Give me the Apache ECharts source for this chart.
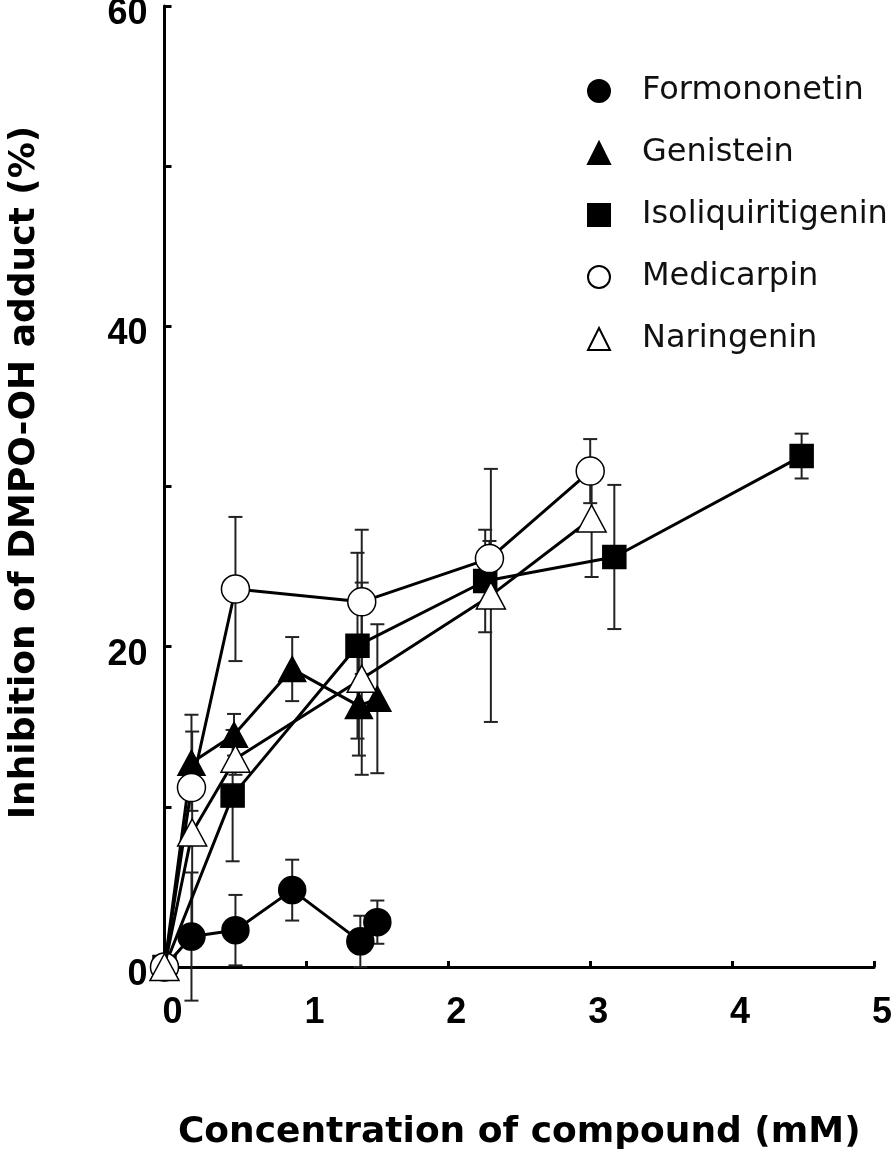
<!DOCTYPE html>
<html>
<head>
<meta charset="utf-8">
<script src="https://cdn.jsdelivr.net/npm/echarts@6/dist/echarts.min.js"></script>
<style>
  html, body { margin: 0; padding: 0; background: #fff; }
  #chart { width: 896px; height: 1159px; }
</style>
</head>
<body>
<div id="chart"></div>
<script>
// ---- data ----
const compounds = ['Formononetin', 'Genistein', 'Isoliquiritigenin', 'Medicarpin', 'Naringenin'];

const formononetinX = [0, 0.19, 0.50, 0.90, 1.38, 1.50];
const formononetinY = [0, 1.9, 2.3, 4.8, 1.6, 2.8];
const formononetinErr = [0, 4.0, 2.2, 1.9, 1.6, 1.35];

const genisteinX = [0, 0.19, 0.49, 0.90, 1.37, 1.50];
const genisteinY = [0, 12.75, 14.5, 18.6, 16.3, 16.75];
const genisteinErr = [0, 3.0, 1.3, 2.0, 3.1, 4.65];

const isoliquiritigeninX = [0, 0.48, 1.36, 2.26, 3.17, 4.49];
const isoliquiritigeninY = [0, 10.7, 20.06, 24.1, 25.6, 31.9];
const isoliquiritigeninErr = [0, 4.1, 5.8, 3.2, 4.5, 1.4];

const medicarpinX = [0, 0.19, 0.50, 1.39, 2.29, 3.00];
const medicarpinY = [0, 11.2, 23.6, 22.8, 25.5, 30.96];
const medicarpinErr = [0, 0.7, 4.5, 4.5, 1.1, 2.0];

const naringeninX = [0, 0.195, 0.50, 1.39, 2.30, 3.01];
const naringeninY = [0, 8.4, 13.0, 18.0, 23.2, 28.0];
const naringeninErr = [0, 6.3, 1.0, 6.0, 7.9, 3.65];

const xTicks = [0, 1, 2, 3, 4, 5];
const yTickLabels = [0, 20, 40, 60];

// ---- build ----
const FONT = "'Liberation Sans', Arial, sans-serif";
const WIDE = "'DejaVu Sans', 'Liberation Sans', Arial, sans-serif";
const seriesDefs = [
  { name: compounds[0], x: formononetinX, y: formononetinY, e: formononetinErr, symbol: 'circle', size: 27, fill: '#000' },
  { name: compounds[1], x: genisteinX, y: genisteinY, e: genisteinErr, symbol: 'triangle', size: [27, 25], fill: '#000' },
  { name: compounds[2], x: isoliquiritigeninX, y: isoliquiritigeninY, e: isoliquiritigeninErr, symbol: 'rect', size: 23, fill: '#000' },
  { name: compounds[3], x: medicarpinX, y: medicarpinY, e: medicarpinErr, symbol: 'circle', size: 28, fill: '#fff' },
  { name: compounds[4], x: naringeninX, y: naringeninY, e: naringeninErr, symbol: 'triangle', size: [29, 27], fill: '#fff' }
];

function zip(xs, ys) { return xs.map((v, i) => [v, ys[i]]); }
function zip3(xs, ys, es) { return xs.map((v, i) => [v, ys[i], es[i]]); }

function renderErr(params, api) {
  const x = api.value(0), y = api.value(1), e = api.value(2);
  if (!e) return null;
  const top = api.coord([x, y + e]);
  const bot = api.coord([x, y - e]);
  const hw = 7;
  const st = { stroke: '#222', lineWidth: 2 };
  return {
    type: 'group',
    children: [
      { type: 'line', shape: { x1: top[0], y1: top[1], x2: bot[0], y2: bot[1] }, style: st },
      { type: 'line', shape: { x1: top[0] - hw, y1: top[1], x2: top[0] + hw, y2: top[1] }, style: st },
      { type: 'line', shape: { x1: bot[0] - hw, y1: bot[1], x2: bot[0] + hw, y2: bot[1] }, style: st }
    ]
  };
}

const series = [];
seriesDefs.forEach(d => {
  series.push({
    type: 'custom',
    name: d.name + ' err',
    renderItem: renderErr,
    data: zip3(d.x, d.y, d.e),
    encode: { x: 0, y: 1 },
    z: 1,
    silent: true,
    clip: false
  });
});
seriesDefs.forEach((d, i) => {
  series.push({
    type: 'line',
    name: d.name,
    data: zip(d.x, d.y),
    symbol: d.symbol,
    symbolSize: d.size,
    showAllSymbol: true,
    lineStyle: { color: '#000', width: 3 },
    itemStyle: { color: d.fill, borderColor: '#000', borderWidth: 1.5 },
    z: 3 + i,
    animation: false
  });
});

const chart = echarts.init(document.getElementById('chart'), null, { renderer: 'canvas' });
chart.setOption({
  animation: false,
  backgroundColor: '#fff',
  grid: { left: 164.5, right: 22, top: 6, bottom: 192, containLabel: false, outerBoundsMode: 'none' },
  legend: {
    orient: 'vertical',
    left: 582,
    top: 70,
    itemWidth: 22,
    itemHeight: 22,
    itemGap: 30,
    data: seriesDefs.map(d => ({ name: d.name, icon: d.symbol })),
    textStyle: { fontFamily: WIDE, fontSize: 32, color: '#111', padding: [0, 0, 0, 27] },
    selectedMode: false
  },
  xAxis: {
    type: 'value',
    min: 0, max: 5, interval: 1,
    name: 'Concentration of compound (mM)',
    nameLocation: 'middle',
    nameGap: 148,
    nameTextStyle: { fontFamily: WIDE, fontSize: 36, fontWeight: 'bold', color: '#000' },
    axisLine: { onZero: false, lineStyle: { color: '#000', width: 3 } },
    axisTick: { inside: true, length: 6, lineStyle: { color: '#000', width: 3 } },
    axisLabel: {
      fontFamily: FONT, fontSize: 36, fontWeight: 'bold', color: '#000', margin: 28,
      padding: [0, 0, 0, 16],
      formatter: v => (xTicks.indexOf(v) >= 0 ? String(v) : '')
    },
    splitLine: { show: false }
  },
  yAxis: {
    type: 'value',
    min: 0, max: 60, interval: 10,
    name: 'Inhibition of DMPO-OH adduct (%)',
    nameLocation: 'middle',
    nameGap: 122,
    nameRotate: 90,
    nameTextStyle: { fontFamily: WIDE, fontSize: 36, fontWeight: 'bold', color: '#000', padding: [0, 0, 0, 28] },
    axisLine: { lineStyle: { color: '#000', width: 3 } },
    axisTick: { inside: true, length: 7, lineStyle: { color: '#000', width: 3 } },
    axisLabel: {
      fontFamily: FONT, fontSize: 36, fontWeight: 'bold', color: '#000', margin: 17,
      formatter: v => (yTickLabels.indexOf(v) >= 0 ? '{a|' + v + '}' : ''),
      rich: { a: { fontFamily: FONT, fontSize: 36, fontWeight: 'bold', color: '#000', padding: [16, 0, 0, 0] } }
    },
    splitLine: { show: false }
  },
  series: series
});
</script>
</body>
</html>
